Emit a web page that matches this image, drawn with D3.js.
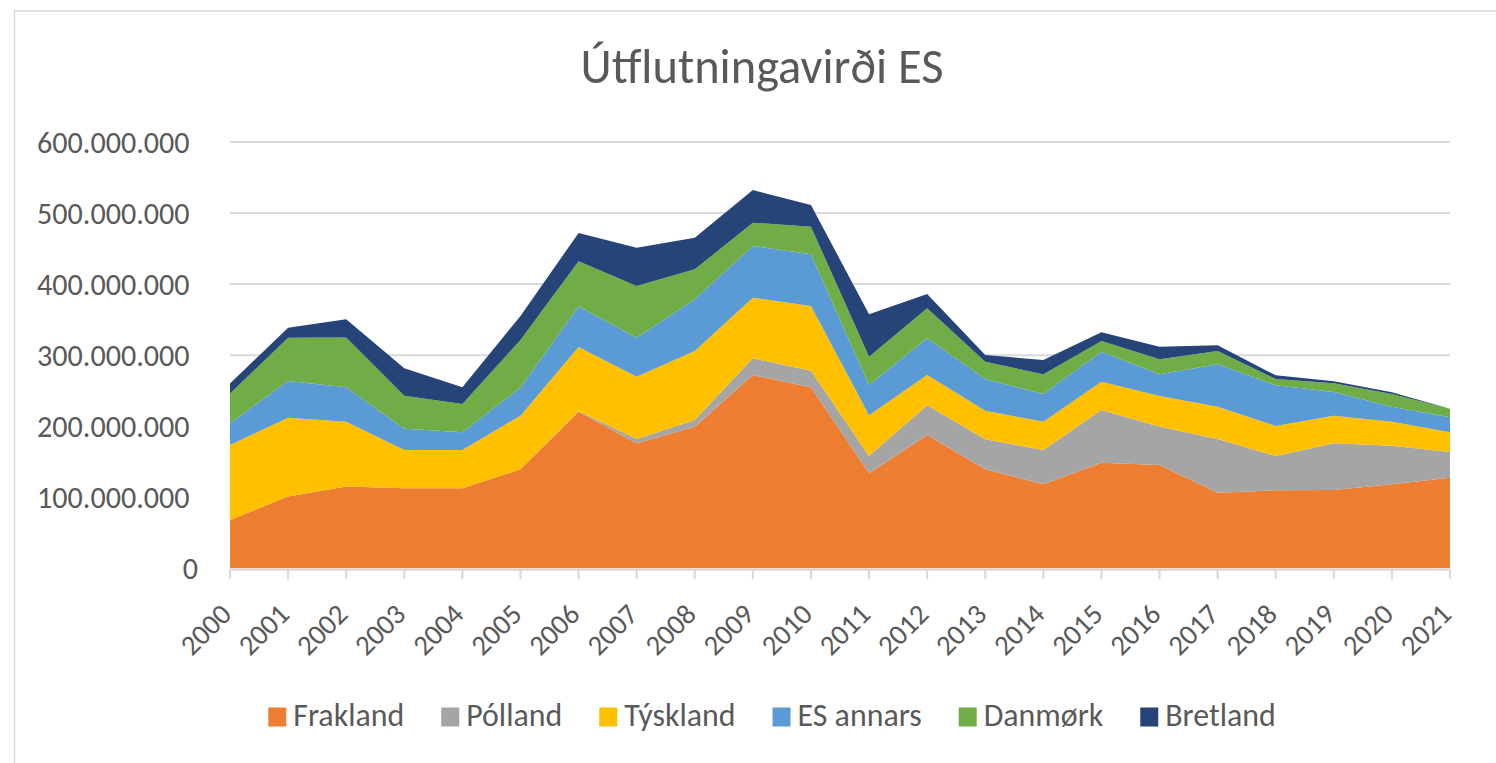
<!DOCTYPE html>
<html>
<head>
<meta charset="utf-8">
<script src="https://cdn.jsdelivr.net/npm/d3@7"></script>
<style>
  body { margin: 0; background: #fff; }
  text { font-family: Calibri, Carlito, Lato, sans-serif; fill: #595959; }
</style>
</head>
<body>
<svg id="chart"></svg>
<script>
// values in millions
const years = [2000, 2001, 2002, 2003, 2004, 2005, 2006, 2007, 2008, 2009, 2010,
               2011, 2012, 2013, 2014, 2015, 2016, 2017, 2018, 2019, 2020, 2021];
const frakland = [68, 101, 115, 112.6, 112.6, 139.3, 220.4, 176, 199.3, 272, 254.8,
                  133.7, 187.6, 139.3, 118.2, 148.6, 145.4, 106.4, 109.8, 110.2, 118.2, 127.5];
const polland  = [0, 0, 0, 0, 0, 0, 0.5, 6, 9.4, 23.6, 23.3,
                  24.3, 41.8, 42.3, 48.3, 74.2, 53.9, 75.6, 48.2, 65.7, 54.4, 36.2];
const tyskland = [105.5, 111, 91.4, 53.9, 53.9, 75.5, 90.6, 87.7, 97.1, 85.3, 91.1,
                  57.3, 42.6, 40.2, 39.8, 39.8, 43.2, 45.4, 42.3, 38.9, 33.7, 27.7];
const esAnnars = [30.5, 51.6, 48.5, 30, 24.9, 39.4, 57.2, 54.9, 72.8, 72.7, 72.7,
                  42.7, 51.7, 44.6, 39, 42.3, 30.5, 59.7, 57.3, 33.3, 21.1, 21.1];
const danmork  = [42, 61, 69.8, 46.5, 39.8, 67.1, 63.3, 72.7, 42.2, 32.8, 38.9,
                  39.8, 42.2, 24.4, 27.7, 15, 21.2, 18.7, 8.8, 12.3, 17.9, 12.1];
const bretland = [14, 14, 25.9, 38.5, 23.6, 33.8, 40, 53.9, 44.5, 46, 30.5,
                  59.7, 20.1, 9.4, 20.2, 12.2, 17.7, 8.1, 5.2, 2.8, 2.4, 0];

const seriesNames = ["Frakland", "Pólland", "Týskland", "ES annars", "Danmørk", "Bretland"];
const seriesValues = [frakland, polland, tyskland, esAnnars, danmork, bretland];
const colors = ["#ED7D31", "#A5A5A5", "#FFC000", "#5B9BD5", "#70AD47", "#264478"];
const yTicks = [0, 100e6, 200e6, 300e6, 400e6, 500e6, 600e6];
const title = "Útflutningavirði ES";

const width = 1496, height = 763;
const svg = d3.select("#chart").attr("width", width).attr("height", height);

// chart frame
svg.append("rect")
  .attr("x", 14.5).attr("y", 11)
  .attr("width", 1600).attr("height", 900)
  .attr("fill", "#fff")
  .attr("stroke", "#d9d9d9").attr("stroke-width", 1.5);

const x = d3.scaleLinear().domain([2000, 2021]).range([230, 1450]);
const y = d3.scaleLinear().domain([0, 600e6]).range([568.3, 142]);

const isLocale = d3.formatLocale({ decimal: ",", thousands: ".", grouping: [3], currency: ["", " kr."] });
const fmt = isLocale.format(",");

// font size that makes sample text reach the target width
function fitSize(sample, target) {
  const t = svg.append("text").attr("font-size", 100).text(sample);
  const len = t.node().getComputedTextLength();
  t.remove();
  return 100 * target / len;
}

const rows = years.map((yr, i) => {
  const r = { year: yr };
  seriesNames.forEach((k, j) => (r[k] = seriesValues[j][i] * 1e6));
  return r;
});

const stacked = d3.stack().keys(seriesNames)(rows);

// gridlines
svg.append("g")
  .selectAll("line")
  .data(yTicks.filter(d => d > 0))
  .join("line")
  .attr("x1", x(2000)).attr("x2", x(2021))
  .attr("y1", d => y(d)).attr("y2", d => y(d))
  .attr("stroke", "#d9d9d9").attr("stroke-width", 2);

// areas
const area = d3.area()
  .x(d => x(d.data.year))
  .y0(d => y(d[0]))
  .y1(d => y(d[1]));

svg.append("g")
  .selectAll("path")
  .data(stacked)
  .join("path")
  .attr("d", area)
  .attr("fill", (d, i) => colors[i]);

// x axis line + ticks
const xAxisG = svg.append("g");
xAxisG.append("line")
  .attr("x1", x(2000)).attr("x2", x(2021))
  .attr("y1", y(0) + 1.5).attr("y2", y(0) + 1.5)
  .attr("stroke", "#d9d9d9").attr("stroke-width", 2);
xAxisG.selectAll("line.tick")
  .data(years)
  .join("line")
  .attr("class", "tick")
  .attr("x1", d => x(d)).attr("x2", d => x(d))
  .attr("y1", y(0) + 1.5).attr("y2", y(0) + 11)
  .attr("stroke", "#d9d9d9").attr("stroke-width", 2);

const xFont = fitSize("2000", 58);
xAxisG.selectAll("text")
  .data(years)
  .join("text")
  .attr("font-size", xFont)
  .attr("text-anchor", "end")
  .attr("transform", d => `translate(${x(d) + 3},616) rotate(-45)`)
  .text(d => d);

// y labels
const yFont = fitSize("600.000.000", 152.5);
svg.append("g")
  .selectAll("text")
  .data(yTicks)
  .join("text")
  .attr("font-size", yFont)
  .attr("text-anchor", "end")
  .attr("x", d => (d === 0 ? 198 : 189.5))
  .attr("y", d => y(d))
  .attr("dy", "0.36em")
  .text(d => fmt(d));

// title
svg.append("text")
  .attr("font-size", fitSize(title, 363))
  .attr("text-anchor", "middle")
  .attr("x", 762).attr("y", 83)
  .text(title);

// legend
const legFont = fitSize("Frakland", 111);
const legG = svg.append("g");
const items = legG.selectAll("g")
  .data(seriesNames)
  .join("g");
items.append("rect")
  .attr("width", 18).attr("height", 19)
  .attr("y", 707.5)
  .attr("fill", (d, i) => colors[i]);
items.append("text")
  .attr("font-size", legFont)
  .attr("x", 25).attr("y", 726)
  .text(d => d);

let cx = 0;
const offsets = [];
items.each(function () {
  offsets.push(cx);
  const w = d3.select(this).select("text").node().getComputedTextLength();
  cx += 25 + w + 37;
});
const total = cx - 37;
const start = 772 - total / 2;
items.attr("transform", (d, i) => `translate(${start + offsets[i]},0)`);
</script>
</body>
</html>
